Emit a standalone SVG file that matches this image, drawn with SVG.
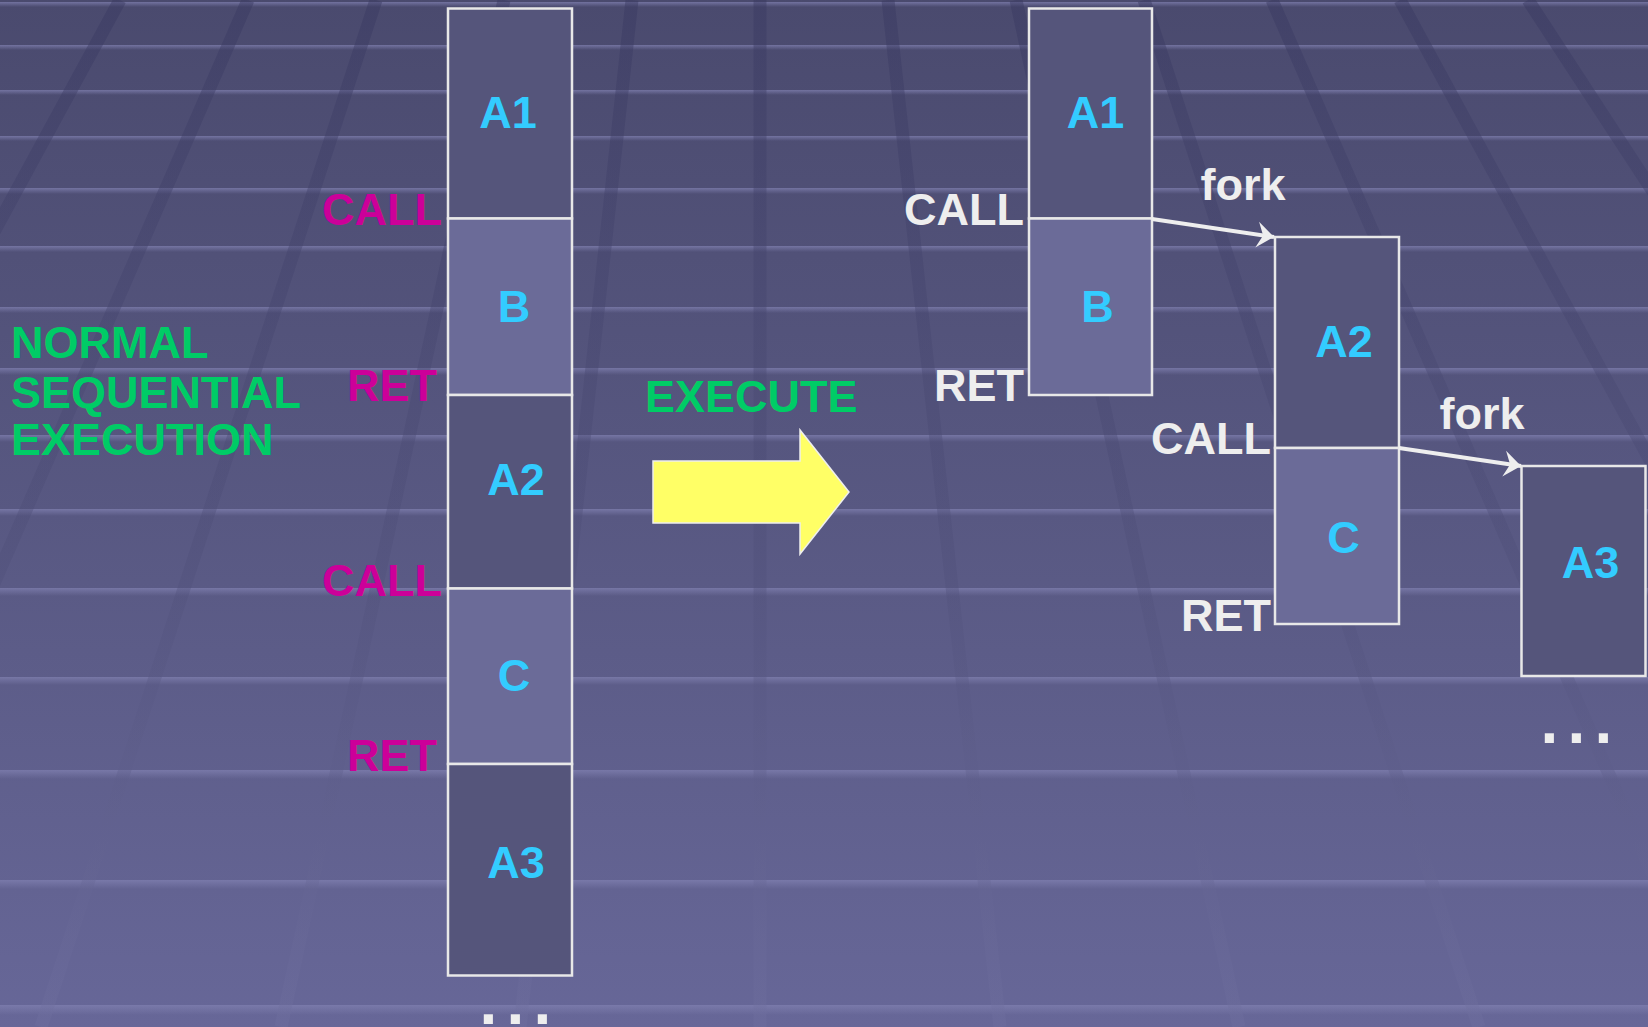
<svg xmlns="http://www.w3.org/2000/svg" width="1648" height="1027" viewBox="0 0 1648 1027">
  <defs>
    <linearGradient id="bg" x1="0" y1="0" x2="0" y2="1">
      <stop offset="0" stop-color="#4A4A6E"/>
      <stop offset="0.5" stop-color="#585882"/>
      <stop offset="1" stop-color="#676798"/>
    </linearGradient>
    <linearGradient id="band" x1="0" y1="0" x2="0" y2="1">
      <stop offset="0" stop-color="#8080B0" stop-opacity="0.75"/>
      <stop offset="1" stop-color="#8080B0" stop-opacity="0"/>
    </linearGradient>
    <linearGradient id="slantg" gradientUnits="userSpaceOnUse" x1="0" y1="0" x2="0" y2="1027">
      <stop offset="0" stop-color="#383860" stop-opacity="0.45"/>
      <stop offset="0.55" stop-color="#4E4E78" stop-opacity="0.35"/>
      <stop offset="1" stop-color="#7070A0" stop-opacity="0.35"/>
    </linearGradient>
    <marker id="head" markerUnits="userSpaceOnUse" markerWidth="40" markerHeight="40" refX="0" refY="0" viewBox="-20 -20 40 40" orient="auto">
      <path d="M0,0 L-17,-13 L-11,0 L-17,13 Z" fill="#EEEEEE"/>
    </marker>
    <style>
      .t { font-family: "Liberation Sans", Arial, sans-serif; font-weight: bold; font-size: 45px; }
      .cy { fill: #33CCFF; }
      .mg { fill: #CC0099; }
      .gr { fill: #00CC66; }
      .wh { fill: #EEEEEE; }
      .dark { fill: #55557B; stroke: #E8E8E8; stroke-width: 2.5; }
      .light { fill: #6B6B98; stroke: #E8E8E8; stroke-width: 2.5; }
      .slant { stroke: url(#slantg); stroke-width: 13; fill: none; }
      .conn { stroke: #EEEEEE; stroke-width: 4; fill: none; marker-end: url(#head); }
      .dots { font-size: 64px; letter-spacing: 9.2px; }
    </style>
  </defs>

  <!-- background -->
  <g id="background">
    <rect x="0" y="0" width="1648" height="1027" fill="url(#bg)"/>
    <rect x="0" y="2" width="1648" height="5" fill="url(#band)"/>
    <rect x="0" y="45" width="1648" height="5" fill="url(#band)"/>
    <rect x="0" y="90" width="1648" height="5" fill="url(#band)"/>
    <rect x="0" y="136" width="1648" height="5" fill="url(#band)"/>
    <rect x="0" y="188" width="1648" height="6" fill="url(#band)"/>
    <rect x="0" y="246" width="1648" height="6" fill="url(#band)"/>
    <rect x="0" y="307" width="1648" height="6" fill="url(#band)"/>
    <rect x="0" y="368" width="1648" height="7" fill="url(#band)"/>
    <rect x="0" y="435" width="1648" height="7" fill="url(#band)"/>
    <rect x="0" y="509" width="1648" height="7" fill="url(#band)"/>
    <rect x="0" y="588" width="1648" height="8" fill="url(#band)"/>
    <rect x="0" y="677" width="1648" height="8" fill="url(#band)"/>
    <rect x="0" y="770" width="1648" height="9" fill="url(#band)"/>
    <rect x="0" y="880" width="1648" height="9" fill="url(#band)"/>
    <rect x="0" y="1005" width="1648" height="10" fill="url(#band)"/>
    <line class="slant" x1="-8" y1="0" x2="-678" y2="1027"/>
    <line class="slant" x1="120" y1="0" x2="-438" y2="1027"/>
    <line class="slant" x1="248" y1="0" x2="-199" y2="1027"/>
    <line class="slant" x1="376" y1="0" x2="41" y2="1027"/>
    <line class="slant" x1="504" y1="0" x2="281" y2="1027"/>
    <line class="slant" x1="632" y1="0" x2="520" y2="1027"/>
    <line class="slant" x1="760" y1="0" x2="760" y2="1027"/>
    <line class="slant" x1="888" y1="0" x2="1000" y2="1027"/>
    <line class="slant" x1="1016" y1="0" x2="1239" y2="1027"/>
    <line class="slant" x1="1144" y1="0" x2="1479" y2="1027"/>
    <line class="slant" x1="1272" y1="0" x2="1719" y2="1027"/>
    <line class="slant" x1="1400" y1="0" x2="1958" y2="1027"/>
    <line class="slant" x1="1528" y1="0" x2="2198" y2="1027"/>
  </g>

  <!-- left: normal sequential execution -->
  <g id="title-left">
    <text class="t gr" x="11" y="358">NORMAL</text>
    <text class="t gr" x="11" y="408">SEQUENTIAL</text>
    <text class="t gr" x="11" y="455">EXECUTION</text>
  </g>

  <g id="seq-A1">
    <rect class="dark" x="448" y="8.5" width="124" height="210"/>
    <text class="t cy" x="508" y="128" text-anchor="middle">A1</text>
  </g>
  <g id="seq-B">
    <rect class="light" x="448" y="218.5" width="124" height="176.5"/>
    <text class="t cy" x="514" y="322" text-anchor="middle">B</text>
  </g>
  <g id="seq-A2">
    <rect class="dark" x="448" y="395" width="124" height="193.5"/>
    <text class="t cy" x="516" y="495" text-anchor="middle">A2</text>
  </g>
  <g id="seq-C">
    <rect class="light" x="448" y="588.5" width="124" height="175.5"/>
    <text class="t cy" x="514" y="691" text-anchor="middle">C</text>
  </g>
  <g id="seq-A3">
    <rect class="dark" x="448" y="764" width="124" height="211.5"/>
    <text class="t cy" x="516" y="878" text-anchor="middle">A3</text>
  </g>
  <g id="seq-labels">
    <text class="t mg" x="442" y="225" text-anchor="end">CALL</text>
    <text class="t mg" x="437" y="401" text-anchor="end">RET</text>
    <text class="t mg" x="442" y="596" text-anchor="end">CALL</text>
    <text class="t mg" x="437" y="771" text-anchor="end">RET</text>
    <text class="t wh dots" x="479.5" y="1024">...</text>
  </g>

  <!-- middle -->
  <g id="execute">
    <text class="t gr" x="645" y="412">EXECUTE</text>
    <polygon points="653,461 800,461 800,430 849,492 800,554 800,523 653,523" fill="#FFFF66" stroke="#EEEEEE" stroke-width="1.5"/>
  </g>

  <!-- right: forked execution -->
  <g id="fork-A1">
    <rect class="dark" x="1029" y="8.5" width="123" height="210"/>
    <text class="t cy" x="1095.5" y="128" text-anchor="middle">A1</text>
  </g>
  <g id="fork-B">
    <rect class="light" x="1029" y="218.5" width="123" height="176.5"/>
    <text class="t cy" x="1097.5" y="322" text-anchor="middle">B</text>
  </g>
  <g id="fork-A2">
    <rect class="dark" x="1275" y="237" width="124" height="211"/>
    <text class="t cy" x="1344" y="357" text-anchor="middle">A2</text>
  </g>
  <g id="fork-C">
    <rect class="light" x="1275" y="448" width="124" height="176"/>
    <text class="t cy" x="1343.5" y="553" text-anchor="middle">C</text>
  </g>
  <g id="fork-A3">
    <rect class="dark" x="1521.5" y="466" width="124" height="210"/>
    <text class="t cy" x="1590.5" y="578" text-anchor="middle">A3</text>
  </g>
  <g id="fork-labels">
    <text class="t wh" x="1024" y="225" text-anchor="end">CALL</text>
    <text class="t wh" x="1024" y="401" text-anchor="end">RET</text>
    <text class="t wh" x="1271" y="454" text-anchor="end">CALL</text>
    <text class="t wh" x="1271" y="631" text-anchor="end">RET</text>
    <text class="t wh" x="1243" y="200" text-anchor="middle">fork</text>
    <text class="t wh" x="1482" y="429" text-anchor="middle">fork</text>
    <text class="t wh dots" x="1540.5" y="743">...</text>
  </g>

  <g id="connectors">
    <line class="conn" x1="1152" y1="219" x2="1274" y2="237"/>
    <line class="conn" x1="1399" y1="448" x2="1521" y2="466"/>
  </g>
</svg>
